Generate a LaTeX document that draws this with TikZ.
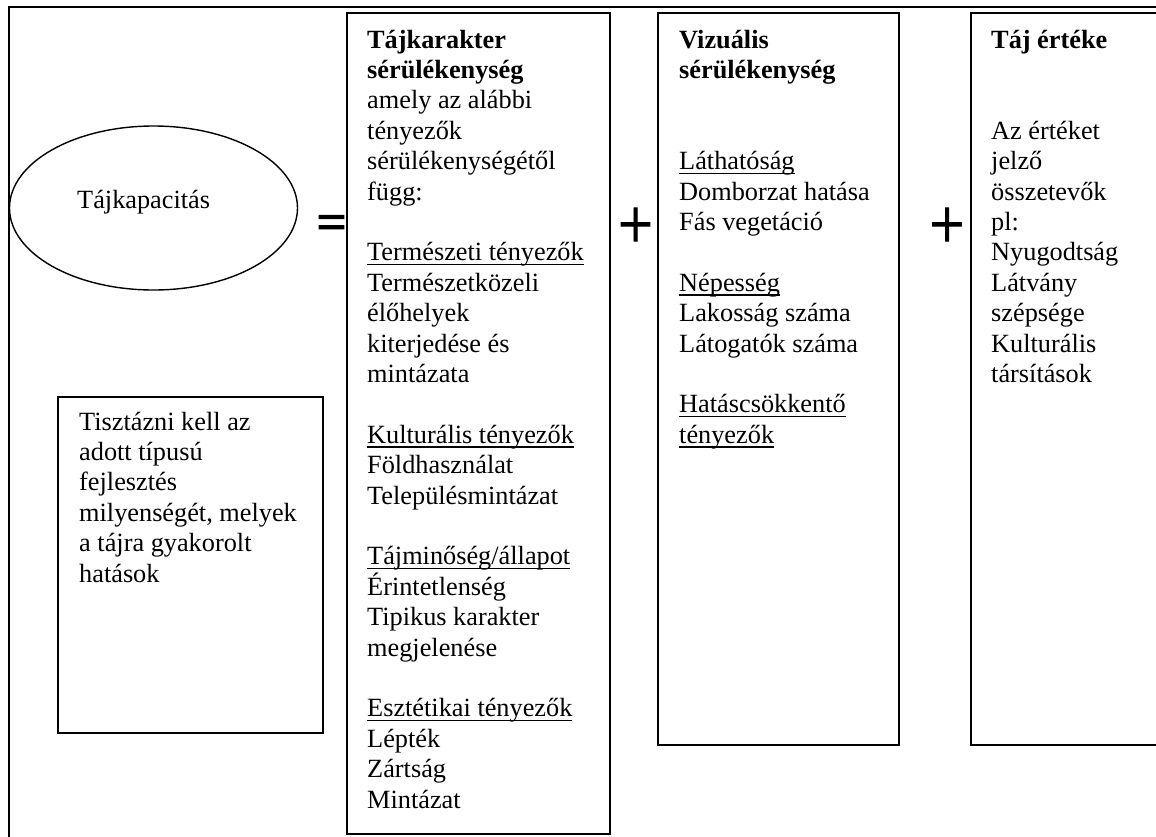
\documentclass[tikz,border=0pt]{standalone}
\usepackage{fontspec}
\usepackage{graphicx}
\setmainfont{Liberation Serif}
\newfontfamily\opfont[FakeBold=3]{Liberation Serif}
\newfontfamily\plusfont[FakeBold=1.4]{Liberation Serif}
\usetikzlibrary{shapes.geometric}
\newcommand\ulx[1]{\leavevmode\setbox0\hbox{#1}\rlap{\rule[-4.6pt]{\wd0}{1.7pt}}\box0}
\newcommand\bodytext[2]{\parbox[t]{#1}{\fontsize{26.3}{30.4}\selectfont\raggedright #2}}
\tikzset{
  frame/.style={line width=1.8pt},
  box/.style={draw, line width=1.8pt, anchor=north west, inner sep=0pt},
  txt/.style={anchor=base west, inner sep=0pt, font=\fontsize{26.3}{30.4}\selectfont},
  eqsym/.style={inner sep=0pt, font=\opfont\fontsize{52}{52}\selectfont},
  plussym/.style={inner sep=0pt, font=\plusfont\fontsize{62}{62}\selectfont},
}
\begin{document}
\begin{tikzpicture}[x=1pt,y=-1pt]
\useasboundingbox (0,0) rectangle (1156,836);
% outer frame
\coordinate (fa) at (9,850);
\coordinate (fb) at (9,7);
\coordinate (fc) at (1170,7);
\draw[frame] (fa) -- (fb) -- (fc);
% ellipse
\node[draw, ellipse, line width=1.4pt, minimum width=288pt, minimum height=164pt, inner sep=0pt] (ell) at (153.5,208) {};
\node[txt] (kap) at (77,208) {Tájkapacitás};
% boxes
\node[box, minimum width=263pt, minimum height=821pt] (b1) at (346,12) {};
\node[box, minimum width=241pt, minimum height=732pt] (b2) at (657,12) {};
\node[box, minimum width=240pt, minimum height=732pt] (b3) at (970,12) {};
\node[box, minimum width=265pt, minimum height=336pt] (b4) at (57,396) {};
% texts
\node[txt] (t1) at (367,48) {\bodytext{238pt}{\textbf{Tájkarakter}\\
\textbf{sérülékenység}\\
amely az alábbi\\
tényezők\\
sérülékenységétől\\
függ:\\
\mbox{}\\
\ulx{Természeti tényezők}\\
Természetközeli\\
élőhelyek\\
kiterjedése és\\
mintázata\\
\mbox{}\\
\ulx{Kulturális tényezők}\\
Földhasználat\\
Településmintázat\\
\mbox{}\\
\ulx{Tájminőség/állapot}\\
Érintetlenség\\
Tipikus karakter\\
megjelenése\\
\mbox{}\\
\ulx{Esztétikai tényezők}\\
Lépték\\
Zártság\\
Mintázat}};
\node[txt] (t2) at (679,48) {\bodytext{215pt}{\textbf{Vizuális}\\
\textbf{sérülékenység}\\
\mbox{}\\
\mbox{}\\
\ulx{Láthatóság}\\
Domborzat hatása\\
Fás vegetáció\\
\mbox{}\\
\ulx{Népesség}\\
Lakosság száma\\
Látogatók száma\\
\mbox{}\\
\ulx{Hatáscsökkentő}\\
\ulx{tényezők}}};
\node[txt] (t3) at (991,48) {\bodytext{160pt}{\textbf{Táj értéke}\\
\mbox{}\\
\mbox{}\\
Az értéket\\
jelző\\
összetevők\\
pl:\\
Nyugodtság\\
Látvány\\
szépsége\\
Kulturális\\
társítások}};
\node[txt] (t4) at (79,430) {\bodytext{240pt}{Tisztázni kell az\\
adott típusú\\
fejlesztés\\
milyenségét, melyek\\
a tájra gyakorolt\\
hatások}};
% operators
\node[eqsym] (eq) at (331.5,227.5) {=};
\node[plussym] (p1) at (635.5,228) {\scalebox{1}[1.15]{+}};
\node[plussym] (p2) at (947,228) {\scalebox{1}[1.15]{+}};
\end{tikzpicture}
\end{document}
